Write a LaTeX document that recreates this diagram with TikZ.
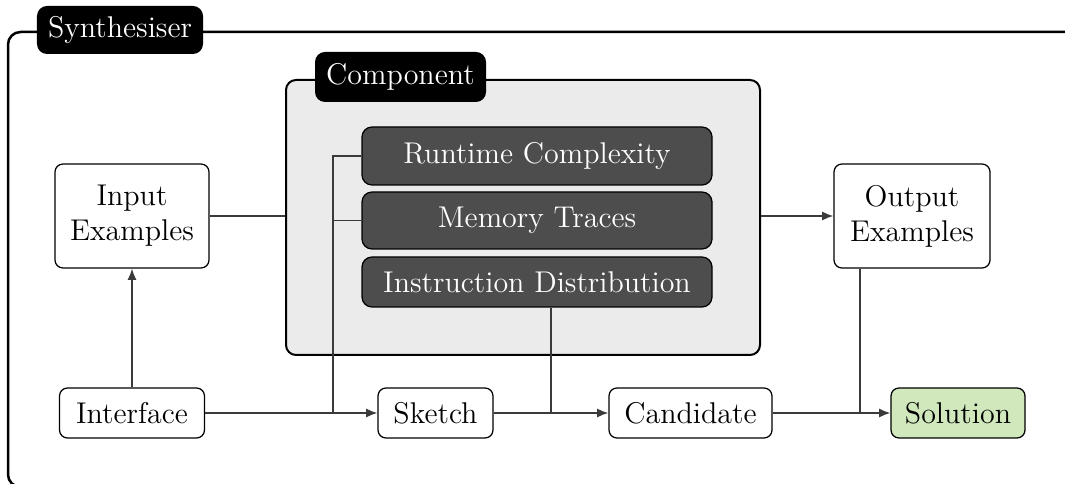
\documentclass[tikz,border=0pt]{standalone}
\usetikzlibrary{arrows.meta}
\definecolor{panel}{HTML}{EBEBEB}
\definecolor{metric}{HTML}{4D4D4D}
\definecolor{done}{HTML}{D0E8BC}
\definecolor{wire}{HTML}{3A3A3A}
\begin{document}
\begin{tikzpicture}[x=0.4pt,y=-0.4pt,
  every node/.style={font=\fontsize{12}{14}\selectfont, inner sep=0pt},
  stage/.style={draw=black, line width=0.5pt, rounded corners=3.2pt, fill=white, align=center},
  metricbox/.style={draw=black, line width=0.5pt, rounded corners=4pt, fill=metric, text=white,
    minimum width=140pt},
  tag/.style={fill=black, text=white, rounded corners=4pt},
  wireline/.style={draw=wire, line width=0.55pt},
  flow/.style={wireline, -{Latex[length=4.5pt,width=3.6pt]}}]
\useasboundingbox (0,0) rectangle (1065,484);
\clip (0,0) rectangle (1065,484);

% outer synthesiser frame (runs off the right and bottom edges)
\draw[line width=1pt, rounded corners=5pt] (8,32) rectangle (1120,487);
\node[tag, minimum width=66.4pt, minimum height=19.2pt] (syn) at (120,30) {Synthesiser};

% component panel with its three metrics
\node[draw=black, line width=0.8pt, fill=panel, rounded corners=4pt,
      minimum width=189.6pt, minimum height=110pt] (comp) at (523,217.5) {};
\node[tag, minimum width=68.4pt, minimum height=20pt] (complabel) at (400.5,77) {Component};
\node[metricbox, minimum height=23.2pt] (rc) at (537,156) {Runtime Complexity};
\node[metricbox, minimum height=22.8pt] (mt) at (537,220.5) {Memory Traces};
\node[metricbox, minimum height=20pt] (id) at (537,282) {Instruction Distribution};

% pipeline stages
\node[stage, minimum width=61.6pt, minimum height=41.6pt] (in) at (132,216) {Input\\Examples};
\node[stage, minimum width=62.4pt, minimum height=41.6pt] (out) at (912,216) {Output\\Examples};
\node[stage, minimum width=58pt, minimum height=20pt] (iface) at (132,413) {Interface};
\node[stage, minimum width=46pt, minimum height=20pt] (sketch) at (435.5,413) {Sketch};
\node[stage, minimum width=65.2pt, minimum height=20pt] (cand) at (690.5,413) {Candidate};
\node[stage, minimum width=53.6pt, minimum height=20pt, fill=done] (sol) at (958,413) {Solution};

% junction points on the bottom row
\coordinate (ja) at (333,413);
\coordinate (jb) at (551,413);
\coordinate (jc) at (860,413);

% connectors
\draw[flow] (iface.north) -- (in.south);
\draw[wireline] (in.east) -- (in.east -| comp.west);
\draw[flow] (comp.east |- out.west) -- (out.west);
\draw[flow] (iface.east) -- (sketch.west);
\draw[wireline] (rc.west) -| (ja);
\draw[wireline] (mt.west) -- (mt.west -| ja);
\draw[flow] (sketch.east) -- (cand.west);
\draw[wireline] (id.south -| jb) -- (jb);
\draw[flow] (cand.east) -- (sol.west);
\draw[wireline] (out.south -| jc) -- (jc);
\end{tikzpicture}
\end{document}
